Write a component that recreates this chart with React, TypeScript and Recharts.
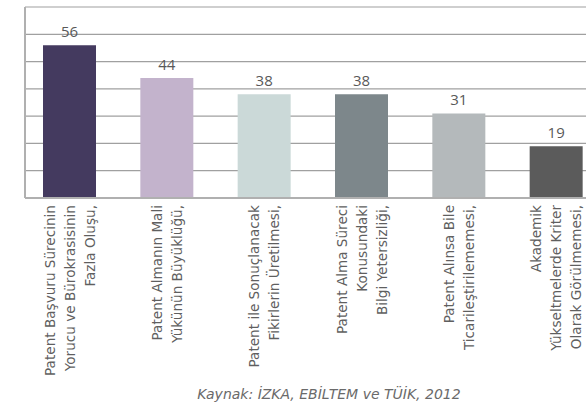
import React from 'react';
import { BarChart, Bar, XAxis, YAxis, CartesianGrid, Cell, LabelList } from 'recharts';

const categories = [
  ['Patent Başvuru Sürecinin', 'Yorucu ve Bürokrasisinin', 'Fazla Oluşu,'],
  ['Patent Almanın Mali', 'Yükünün Büyüklüğü,'],
  ['Patent ile Sonuçlanacak', 'Fikirlerin Üretilmesi,'],
  ['Patent Alma Süreci', 'Konusundaki', 'Bilgi Yetersizliği,'],
  ['Patent Alınsa Bile', 'Ticarileştirilememesi,'],
  ['Akademik', 'Yükseltmelerde Kriter', 'Olarak Görülmemesi,'],
];
const values = [56, 44, 38, 38, 31, 19];
const colors = ['#443a5f', '#c3b3cc', '#cbd9d8', '#7d878b', '#b4b9bb', '#5b5b5b'];
const yTicks = [0, 10, 20, 30, 40, 50, 60, 70];
const source = 'Kaynak: İZKA, EBİLTEM ve TÜİK, 2012';

const data = values.map((v, i) => ({ name: String(i), value: v }));

const FONT = '"DejaVu Sans", sans-serif';

// rotated multi-line category label, end of text sits right under the axis
const CategoryTick = (props: any) => {
  const { x, y, payload } = props;
  const lines = categories[Number(payload.value)];
  const lineH = 20;
  const fs = 13.6;
  return (
    <g transform={`translate(${x},${y - 1})`}>
      <text
        transform="rotate(-90)"
        textAnchor="end"
        fill="#5f5f5f"
        fontSize={fs}
        fontFamily={FONT}
      >
        {lines.map((l, i) => (
          <tspan key={i} x={0} y={(i - (lines.length - 1) / 2) * lineH + fs * 0.36}>
            {l}
          </tspan>
        ))}
      </text>
    </g>
  );
};

export default function App() {
  return (
    <div
      style={{
        position: 'absolute',
        left: 0,
        top: 0,
        width: 586,
        height: 408,
        overflow: 'hidden',
        background: '#fff',
      }}
    >
      <BarChart
        width={605}
        height={408}
        data={data}
        margin={{ top: 7, right: 0, left: 24, bottom: 10 }}
        barSize={53}
      >
        <CartesianGrid vertical={false} stroke="#a0a0a0" strokeWidth={1.2} />
        <YAxis
          domain={[0, 70]}
          ticks={yTicks}
          width={1}
          tick={() => <g />}
          tickLine={false}
          axisLine={{ stroke: '#b0b0b0', strokeWidth: 2 }}
        />
        <XAxis
          dataKey="name"
          height={200}
          interval={0}
          tickLine={false}
          axisLine={{ stroke: '#b0b0b0', strokeWidth: 2 }}
          padding={{ left: -4, right: 0 }}
          tick={<CategoryTick />}
        />
        <Bar dataKey="value" isAnimationActive={false}>
          {data.map((d, i) => (
            <Cell key={d.name} fill={colors[i]} />
          ))}
          <LabelList
            dataKey="value"
            position="top"
            offset={8}
            fill="#595959"
            fontSize={15}
            fontFamily='"Open Sans", sans-serif'
          />
        </Bar>
      </BarChart>
      <div
        style={{
          position: 'absolute',
          left: 0,
          width: 658,
          top: 386,
          textAlign: 'center',
          fontFamily: FONT,
          fontStyle: 'italic',
          fontSize: 14,
          color: '#6a6a6a',
        }}
      >
        {source}
      </div>
    </div>
  );
}
